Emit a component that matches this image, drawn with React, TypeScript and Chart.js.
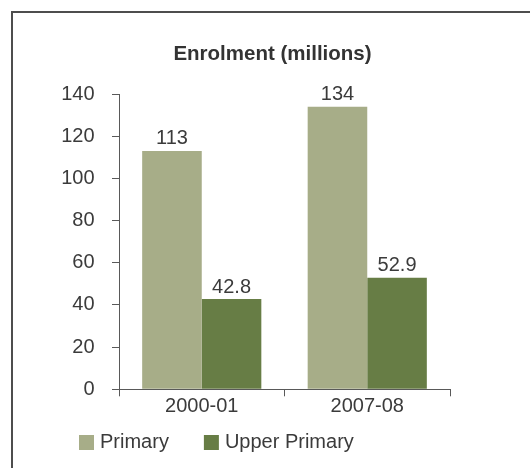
import React, { useEffect, useRef } from "react";
import { Chart, registerables } from "chart.js";

Chart.register(...registerables);

const categories = ["2000-01", "2007-08"];
const seriesNames = ["Primary", "Upper Primary"];
const primaryValues = [113, 134];
const upperPrimaryValues = [42.8, 52.9];
const yMin = 0;
const yMax = 140;
const yStep = 20;
const titleText = "Enrolment (millions)";

const FONT = "'Liberation Sans', Arial, Helvetica, sans-serif";
const TEXT = "#3b3b3b";
const AXIS = "#595959";
const COLORS = ["#A7AD88", "#677D45"];

const valueLabels = {
  id: "valueLabels",
  afterDatasetsDraw(chart: any) {
    const ctx = chart.ctx;
    ctx.save();
    ctx.font = `20px ${FONT}`;
    ctx.fillStyle = TEXT;
    ctx.textAlign = "center";
    ctx.textBaseline = "middle";
    chart.data.datasets.forEach((ds: any, i: number) => {
      const meta = chart.getDatasetMeta(i);
      meta.data.forEach((bar: any, j: number) => {
        ctx.fillText(String(ds.data[j]), bar.x, bar.y - 12);
      });
    });
    ctx.restore();
  },
};

const bottomLegend = {
  id: "bottomLegend",
  afterDraw(chart: any) {
    const ctx = chart.ctx;
    ctx.save();
    ctx.font = `20px ${FONT}`;
    ctx.textBaseline = "middle";
    ctx.textAlign = "left";
    let x = 79;
    const boxTop = 435;
    const box = 15;
    const cy = boxTop + box / 2;
    chart.data.datasets.forEach((ds: any) => {
      ctx.fillStyle = ds.backgroundColor;
      ctx.fillRect(x, boxTop, box, box);
      ctx.fillStyle = TEXT;
      ctx.fillText(ds.label, x + box + 6, cy);
      x += box + 6 + ctx.measureText(ds.label).width + 35;
    });
    ctx.restore();
  },
};

export default function App() {
  const ref = useRef<HTMLCanvasElement | null>(null);

  useEffect(() => {
    if (!ref.current) return;
    const chart = new Chart(ref.current, {
      type: "bar",
      data: {
        labels: categories,
        datasets: [
          {
            label: seriesNames[0],
            data: primaryValues,
            backgroundColor: COLORS[0],
            categoryPercentage: 0.72,
            barPercentage: 1,
          },
          {
            label: seriesNames[1],
            data: upperPrimaryValues,
            backgroundColor: COLORS[1],
            categoryPercentage: 0.72,
            barPercentage: 1,
          },
        ],
      },
      options: {
        responsive: false,
        animation: false,
        layout: { padding: { left: 50, right: 35, top: 0, bottom: 51.7 } },
        plugins: {
          legend: { display: false },
          tooltip: { enabled: false },
          title: {
            display: true,
            text: titleText,
            color: "#333333",
            font: { family: FONT, size: 20.5, weight: "bold", lineHeight: 1.2 },
            padding: { top: 42.2, bottom: 27.2 },
          },
        },
        scales: {
          x: {
            grid: {
              drawOnChartArea: false,
              drawTicks: true,
              tickLength: 7,
              color: AXIS,
              offset: true,
            },
            border: { display: true, color: AXIS, width: 1 },
            ticks: {
              color: TEXT,
              padding: 0,
              font: { family: FONT, size: 20, lineHeight: 1 },
            },
          },
          y: {
            min: yMin,
            max: yMax,
            afterFit: (scale: any) => {
              scale.width = 69;
            },
            grid: {
              drawOnChartArea: false,
              drawTicks: true,
              tickLength: 7,
              color: AXIS,
            },
            border: { display: true, color: AXIS, width: 1 },
            ticks: {
              stepSize: yStep,
              color: TEXT,
              padding: 17.5,
              font: { family: FONT, size: 20 },
            },
          },
          yRight: {
            type: "linear",
            position: "right",
            display: true,
            afterFit: (scale: any) => {
              scale.width = 45;
            },
            grid: { display: false, drawTicks: false },
            border: { display: false },
            ticks: { display: false },
          },
        },
      },
      plugins: [valueLabels, bottomLegend],
    });
    return () => chart.destroy();
  }, []);

  return (
    <div style={{ position: "fixed", left: 0, top: 0, width: 530, height: 468, background: "#fff" }}>
      <div
        style={{
          position: "absolute",
          left: 11,
          top: 11,
          width: 540,
          height: 480,
          borderLeft: "2px solid #4d4d4d",
          borderTop: "2px solid #4d4d4d",
        }}
      />
      <canvas ref={ref} width={530} height={468} style={{ position: "absolute", left: 0, top: 0 }} />
    </div>
  );
}
